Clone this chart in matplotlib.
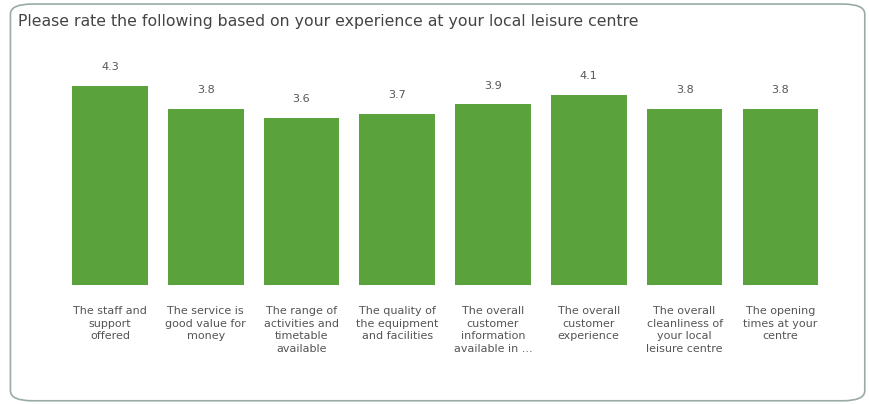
import matplotlib.pyplot as plt
from matplotlib.patches import FancyBboxPatch

plt.rcParams['font.family'] = ['DejaVu Sans']

# Survey ratings per question
title = 'Please rate the following based on your experience at your local leisure centre'
categories = [
    'The staff and\nsupport\noffered',
    'The service is\ngood value for\nmoney',
    'The range of\nactivities and\ntimetable\navailable',
    'The quality of\nthe equipment\nand facilities',
    'The overall\ncustomer\ninformation\navailable in ...',
    'The overall\ncustomer\nexperience',
    'The overall\ncleanliness of\nyour local\nleisure centre',
    'The opening\ntimes at your\ncentre',
]
ratings = [4.3, 3.8, 3.6, 3.7, 3.9, 4.1, 3.8, 3.8]

bar_color = '#5aa23c'
text_color = '#555555'

fig = plt.figure(figsize=(8.7, 4.04), dpi=100)

# rounded panel frame, kept behind the axes
frame = FancyBboxPatch((0.012, 0.008), 0.982, 0.982,
                       boxstyle='round,pad=0,rounding_size=0.025',
                       transform=fig.transFigure, facecolor='white',
                       edgecolor='#9aaba5', linewidth=1.2, zorder=-5)
fig.patches.append(frame)

fig.text(0.021, 0.948, title, fontsize=11.3, color='#444444', ha='left', va='center')

ax = fig.add_axes([0.0603, 0.2946, 0.9027, 0.573])
x = range(len(ratings))
bars = ax.bar(x, ratings, width=0.79, color=bar_color)

for b, v in zip(bars, ratings):
    ax.text(b.get_x() + b.get_width() / 2, v + 0.3, f'{v:.1f}',
            ha='center', va='bottom', fontsize=8, color=text_color)

ax.set_xlim(-0.6, len(ratings) - 0.4)
ax.set_ylim(0, 5)
ax.set_xticks(list(x))
ax.set_xticklabels(categories, fontsize=8, color=text_color, linespacing=1.35)
ax.tick_params(axis='x', length=0, pad=15)
ax.set_yticks([])
for s in ax.spines.values():
    s.set_visible(False)
ax.patch.set_alpha(0)

fig.savefig('out.png', dpi=100)
